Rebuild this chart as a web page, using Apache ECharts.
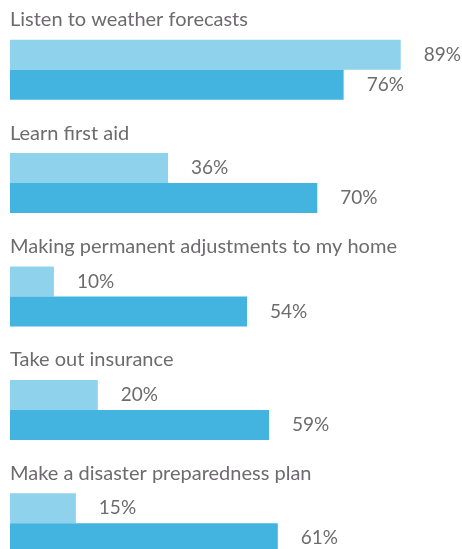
<!DOCTYPE html>
<html>
<head>
<meta charset="utf-8">
<script src="https://cdn.jsdelivr.net/npm/echarts@6/dist/echarts.min.js"></script>
<style>html,body{margin:0;padding:0;background:#fff;}#c{width:462px;height:549px;}</style>
</head>
<body>
<div id="c"></div>
<script>
const categories = [
  'Listen to weather forecasts',
  'Learn first aid',
  'Making permanent adjustments to my home',
  'Take out insurance',
  'Make a disaster preparedness plan'
];
const seriesLight = [89, 36, 10, 20, 15];
const seriesDark = [76, 70, 54, 59, 61];

const textColor = '#6d6b6d';
const fontFamily = 'Lato, "Open Sans", sans-serif';

const chart = echarts.init(document.getElementById('c'));
chart.setOption({
  animation: false,
  grid: { left: 10, width: 439, top: -2, height: 567, outerBoundsMode: 'none', containLabel: false },
  xAxis: { type: 'value', min: 0, max: 100, show: false },
  yAxis: { type: 'category', data: categories, inverse: true, show: false },
  series: [
    {
      type: 'bar', barWidth: 30, barGap: '0%',
      data: categories.map(() => 100),
      itemStyle: { color: 'rgba(0,0,0,0)' },
      silent: true,
      label: {
        show: true, position: 'insideLeft', distance: 0, offset: [0, -5],
        formatter: p => categories[p.dataIndex],
        color: textColor, fontSize: 20, fontFamily: fontFamily
      }
    },
    {
      type: 'bar', barWidth: 30, barGap: '0%',
      data: seriesLight,
      itemStyle: { color: '#8fd2ec' },
      label: {
        show: true, position: 'right', distance: 23,
        formatter: '{c}%', color: textColor, fontSize: 19, fontFamily: fontFamily
      }
    },
    {
      type: 'bar', barWidth: 30, barGap: '0%',
      data: seriesDark,
      itemStyle: { color: '#43b4e0' },
      label: {
        show: true, position: 'right', distance: 23,
        formatter: '{c}%', color: textColor, fontSize: 19, fontFamily: fontFamily
      }
    }
  ]
});
</script>
</body>
</html>
